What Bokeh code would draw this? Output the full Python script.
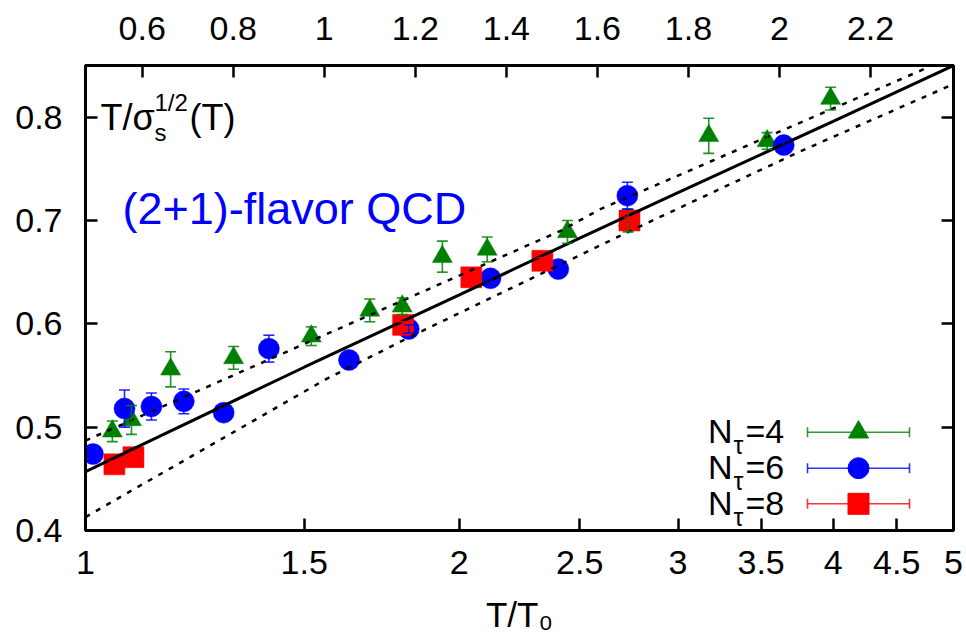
from bokeh.plotting import figure
from bokeh.models import (Range1d, LinearAxis, LinearScale, FixedTicker, Whisker,
                          ColumnDataSource, Label, TeeHead)
from bokeh.embed import file_html
from bokeh.resources import INLINE

# ---------------- data ----------------
nt4_x = [1.051, 1.089, 1.171, 1.316, 1.520, 1.694, 1.799, 1.938, 2.106, 2.444, 2.735, 3.176, 3.539, 3.981]
nt4_y = [0.496, 0.507, 0.556, 0.567, 0.588, 0.613, 0.617, 0.665, 0.672, 0.689, 0.700, 0.782, 0.777, 0.818]
nt4_e = [0.010, 0.014, 0.017, 0.011, 0.009, 0.011, 0.008, 0.015, 0.012, 0.011, 0.011, 0.017, 0.008, 0.011]

nt6_x = [1.014, 1.075, 1.130, 1.200, 1.292, 1.405, 1.630, 1.821, 2.119, 2.403, 2.731, 3.650]
nt6_y = [0.474, 0.518, 0.520, 0.525, 0.514, 0.576, 0.565, 0.595, 0.644, 0.653, 0.724, 0.773]
nt6_e = [0.004, 0.018, 0.013, 0.012, 0.004, 0.013, 0.004, 0.004, 0.004, 0.004, 0.013, 0.004]

nt8_x = [1.055, 1.093, 1.802, 2.045, 2.333, 2.742]
nt8_y = [0.464, 0.471, 0.599, 0.645, 0.661, 0.700]
nt8_e = [0.003, 0.003, 0.003, 0.003, 0.003, 0.003]

fit_x = [1.0, 1.5, 2.0, 2.5, 3.0, 4.0, 5.0]
fit_y = [0.457, 0.558, 0.628, 0.683, 0.727, 0.796, 0.850]

up_x = [1.0, 1.51, 2.413, 2.598, 4.703, 5.0]
up_y = [0.487, 0.582, 0.690, 0.711, 0.845, 0.860]

lo_x = [1.0, 1.139, 1.565, 1.844, 2.747, 3.765, 5.0]
lo_y = [0.413, 0.452, 0.547, 0.590, 0.690, 0.767, 0.832]

x_ticks = [1, 1.5, 2, 2.5, 3, 3.5, 4, 4.5, 5]
x_tick_labels = ["1", "1.5", "2", "2.5", "3", "3.5", "4", "4.5", "5"]
top_ticks = [0.6, 0.8, 1.0, 1.2, 1.4, 1.6, 1.8, 2.0, 2.2]
top_tick_labels = ["0.6", "0.8", "1", "1.2", "1.4", "1.6", "1.8", "2", "2.2"]
y_ticks = [0.4, 0.5, 0.6, 0.7, 0.8]
y_tick_labels = ["0.4", "0.5", "0.6", "0.7", "0.8"]

series = [
    ("4", nt4_x, nt4_y, nt4_e, "#008000", "triangle", 20),
    ("6", nt6_x, nt6_y, nt6_e, "#0000ff", "circle", 21),
    ("8", nt8_x, nt8_y, nt8_e, "#ff0000", "square", 21),
]

FONT = "Liberation Sans"
FW, FH = 868, 465  # frame size in px (used for a pixel-based helper range)

p = figure(width=966, height=637, x_axis_type="log",
           x_range=Range1d(1, 5), y_range=Range1d(0.4, 0.85),
           output_backend="svg", toolbar_location=None,
           min_border_left=85, min_border_right=13,
           min_border_top=65, min_border_bottom=107)

p.extra_x_ranges = {"top": Range1d(0.4754, 2.3823), "lx": Range1d(0, FW)}
p.extra_x_scales = {"top": LinearScale(), "lx": LinearScale()}
p.extra_y_ranges = {"ly": Range1d(0, FH)}
p.extra_y_scales = {"ly": LinearScale()}

p.grid.visible = False
p.outline_line_color = "black"
p.outline_line_width = 3
p.background_fill_color = "white"
p.border_fill_color = "white"


def style_axis(ax, ticks, labels, standoff):
    ax.ticker = FixedTicker(ticks=ticks)
    ax.major_label_overrides = {t: l for t, l in zip(ticks, labels)}
    ax.major_tick_in = 12
    ax.major_tick_out = 0
    ax.minor_tick_line_color = None
    ax.axis_line_width = 3
    ax.major_tick_line_width = 2.5
    ax.major_label_text_font = FONT
    ax.major_label_text_color = "black"
    ax.major_label_standoff = standoff
    ax.major_label_text_font_size = "34px"


style_axis(p.xaxis[0], x_ticks, x_tick_labels, 20)
style_axis(p.yaxis[0], y_ticks, y_tick_labels, 23)

xa = p.xaxis[0]
xa.axis_label = "T/T\u2080"
xa.axis_label_text_font = FONT
xa.axis_label_text_font_size = "35px"
xa.axis_label_text_font_style = "normal"
xa.axis_label_text_color = "black"
xa.axis_label_standoff = 18

top = LinearAxis(x_range_name="top")
style_axis(top, top_ticks, top_tick_labels, 26)
p.add_layout(top, "above")

right = LinearAxis()
style_axis(right, y_ticks, ["" for _ in y_ticks], 0)
p.add_layout(right, "right")

# ---------------- data marks ----------------
for name, xs, ys, es, col, mk, sz in series:
    src = ColumnDataSource(dict(x=xs, y=ys,
                                lo=[a - b for a, b in zip(ys, es)],
                                hi=[a + b for a, b in zip(ys, es)]))
    w = Whisker(source=src, base="x", lower="lo", upper="hi", dimension="height",
                line_color=col, line_width=1.6, line_alpha=0.85, level="glyph",
                upper_head=TeeHead(size=11, line_color=col, line_width=1.6, line_alpha=0.85),
                lower_head=TeeHead(size=11, line_color=col, line_width=1.6, line_alpha=0.85))
    p.add_layout(w)
    p.scatter("x", "y", source=src, marker=mk, size=sz,
              fill_color=col, line_color=col, line_width=0.5)

p.line(fit_x, fit_y, line_color="black", line_width=3)
p.line(up_x, up_y, line_color="black", line_width=2.5, line_dash="5 7")
p.line(lo_x, lo_y, line_color="black", line_width=2.5, line_dash="5 7")


# ---------------- text helper (pixel helper range; baseline correction) ----------------
def lab(x, y, text, size, color="black", align="left"):
    p.add_layout(Label(x=x, y=y + 0.33 * size, text=text, text_align=align,
                       text_baseline="alphabetic", text_font=FONT,
                       text_font_size=f"{size}px", text_color=color,
                       x_range_name="lx", y_range_name="ly"))


# ---------------- legend (manual) ----------------
row_y = [98.3, 62.3, 26.7]
bar_x0, bar_x1, mark_x = 722, 824, 773
for (name, xs, ys, es, col, mk, sz), ry in zip(series, row_y):
    p.segment(x0=[bar_x0], y0=[ry], x1=[bar_x1], y1=[ry], line_color=col,
              line_width=1.6, line_alpha=0.8, x_range_name="lx", y_range_name="ly")
    p.segment(x0=[bar_x0, bar_x1], y0=[ry - 5, ry - 5], x1=[bar_x0, bar_x1], y1=[ry + 5, ry + 5],
              line_color=col, line_width=1.6, line_alpha=0.8, x_range_name="lx", y_range_name="ly")
    p.scatter(x=[mark_x], y=[ry], marker=mk, size=sz, fill_color=col, line_color=col,
              x_range_name="lx", y_range_name="ly")
    base = ry - 10
    lab(647, base, "N", 34, align="right")
    lab(648, base - 11, "\u03c4", 25)
    lab(660, base, "=" + name, 34)

# ---------------- annotations ----------------
lab(15, 401, "T/\u03c3", 36)
lab(69, 390, "s", 24)
lab(69, 420, "1/2", 24)
lab(104, 401, "(T)", 36)

lab(37, 307, "(2+1)-flavor QCD", 45, color="#0000ff")

open("out.html", "w").write(file_html(p, INLINE))
